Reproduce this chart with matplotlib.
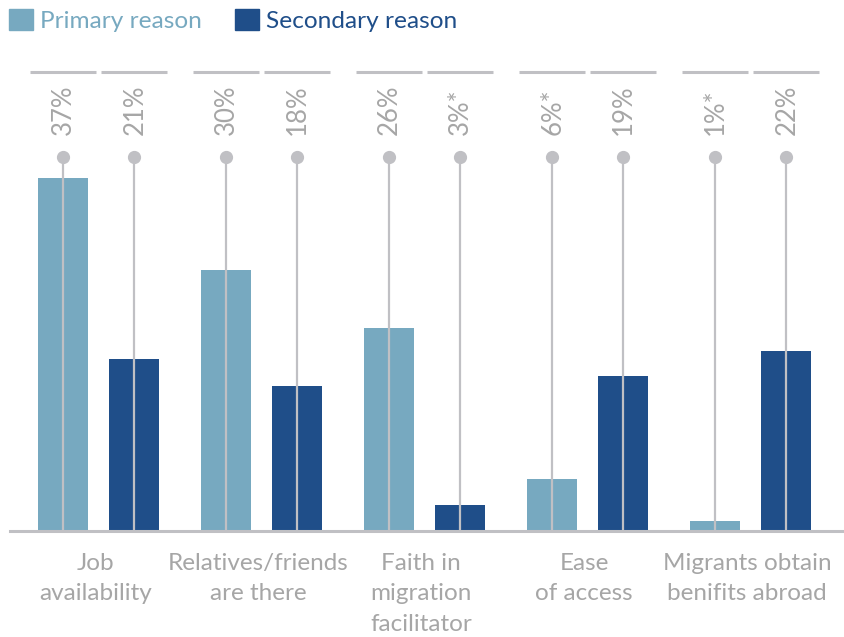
import numpy as np
import matplotlib.pyplot as plt
from matplotlib.patches import Patch

plt.rcParams['font.family'] = ['Lato', 'DejaVu Sans']

categories = ['Job\navailability', 'Relatives/friends\nare there', 'Faith in\nmigration\nfacilitator',
              'Ease\nof access', 'Migrants obtain\nbenifits abroad']
# bar heights as drawn in the picture (%)
primary = [43.0, 31.8, 24.8, 6.3, 1.2]
secondary = [21.0, 17.7, 3.2, 18.9, 22.0]
primary_labels = ['37%', '30%', '26%', '6%*', '1%*']
secondary_labels = ['21%', '18%', '3%*', '19%', '22%']

c_prim = '#77A9C0'
c_sec = '#1F4E89'
c_grey = '#C0C0C4'
c_text = '#A6A6A6'

fig = plt.figure(figsize=(8.44, 6.37), dpi=100)
ax = fig.add_axes([0, 0, 1, 1])
ax.set_xlim(-0.604, 4.574)
ax.set_ylim(-12.93, 64.76)
ax.axis('off')

x = np.arange(len(categories))
off = 0.218
w = 0.307
ax.bar(x - off, primary, w, color=c_prim, zorder=2)
ax.bar(x + off, secondary, w, color=c_sec, zorder=2)

dot_y = 45.6
line_y = 56.0
lab_y = 48.3
for xs, labs in [(x - off, primary_labels), (x + off, secondary_labels)]:
    for xi, lab in zip(xs, labs):
        ax.plot([xi, xi], [0, dot_y], color=c_grey, lw=1.6, zorder=3)
        ax.plot(xi, dot_y, 'o', color=c_grey, ms=8.5, zorder=3)
        ax.plot([xi - 0.2, xi + 0.2], [line_y, line_y], color=c_grey, lw=2.2,
                solid_capstyle='butt', zorder=3)
        ax.text(xi + 0.005, lab_y, lab, rotation=90, ha='center', va='bottom',
                color=c_text, fontsize=18.5)

ax.axhline(0, xmin=10 / 844, xmax=1, color=c_grey, lw=2.2, zorder=4)

for xi, cat in zip(x, categories):
    ax.text(xi - 0.02, -2.65, cat, ha='center', va='top', color=c_text,
            fontsize=17.5, linespacing=1.57)

handles = [Patch(color=c_prim), Patch(color=c_sec)]
ax.legend(handles, ['Primary reason', 'Secondary reason'], loc='upper left',
          bbox_to_anchor=(-0.0125, 1.017), frameon=False, ncol=2, fontsize=17.6,
          handlelength=0.98, handleheight=0.98, handletextpad=0.3, columnspacing=1.35,
          labelcolor=[c_prim, c_sec], borderpad=0.3)

fig.savefig('out.png', dpi=100)
